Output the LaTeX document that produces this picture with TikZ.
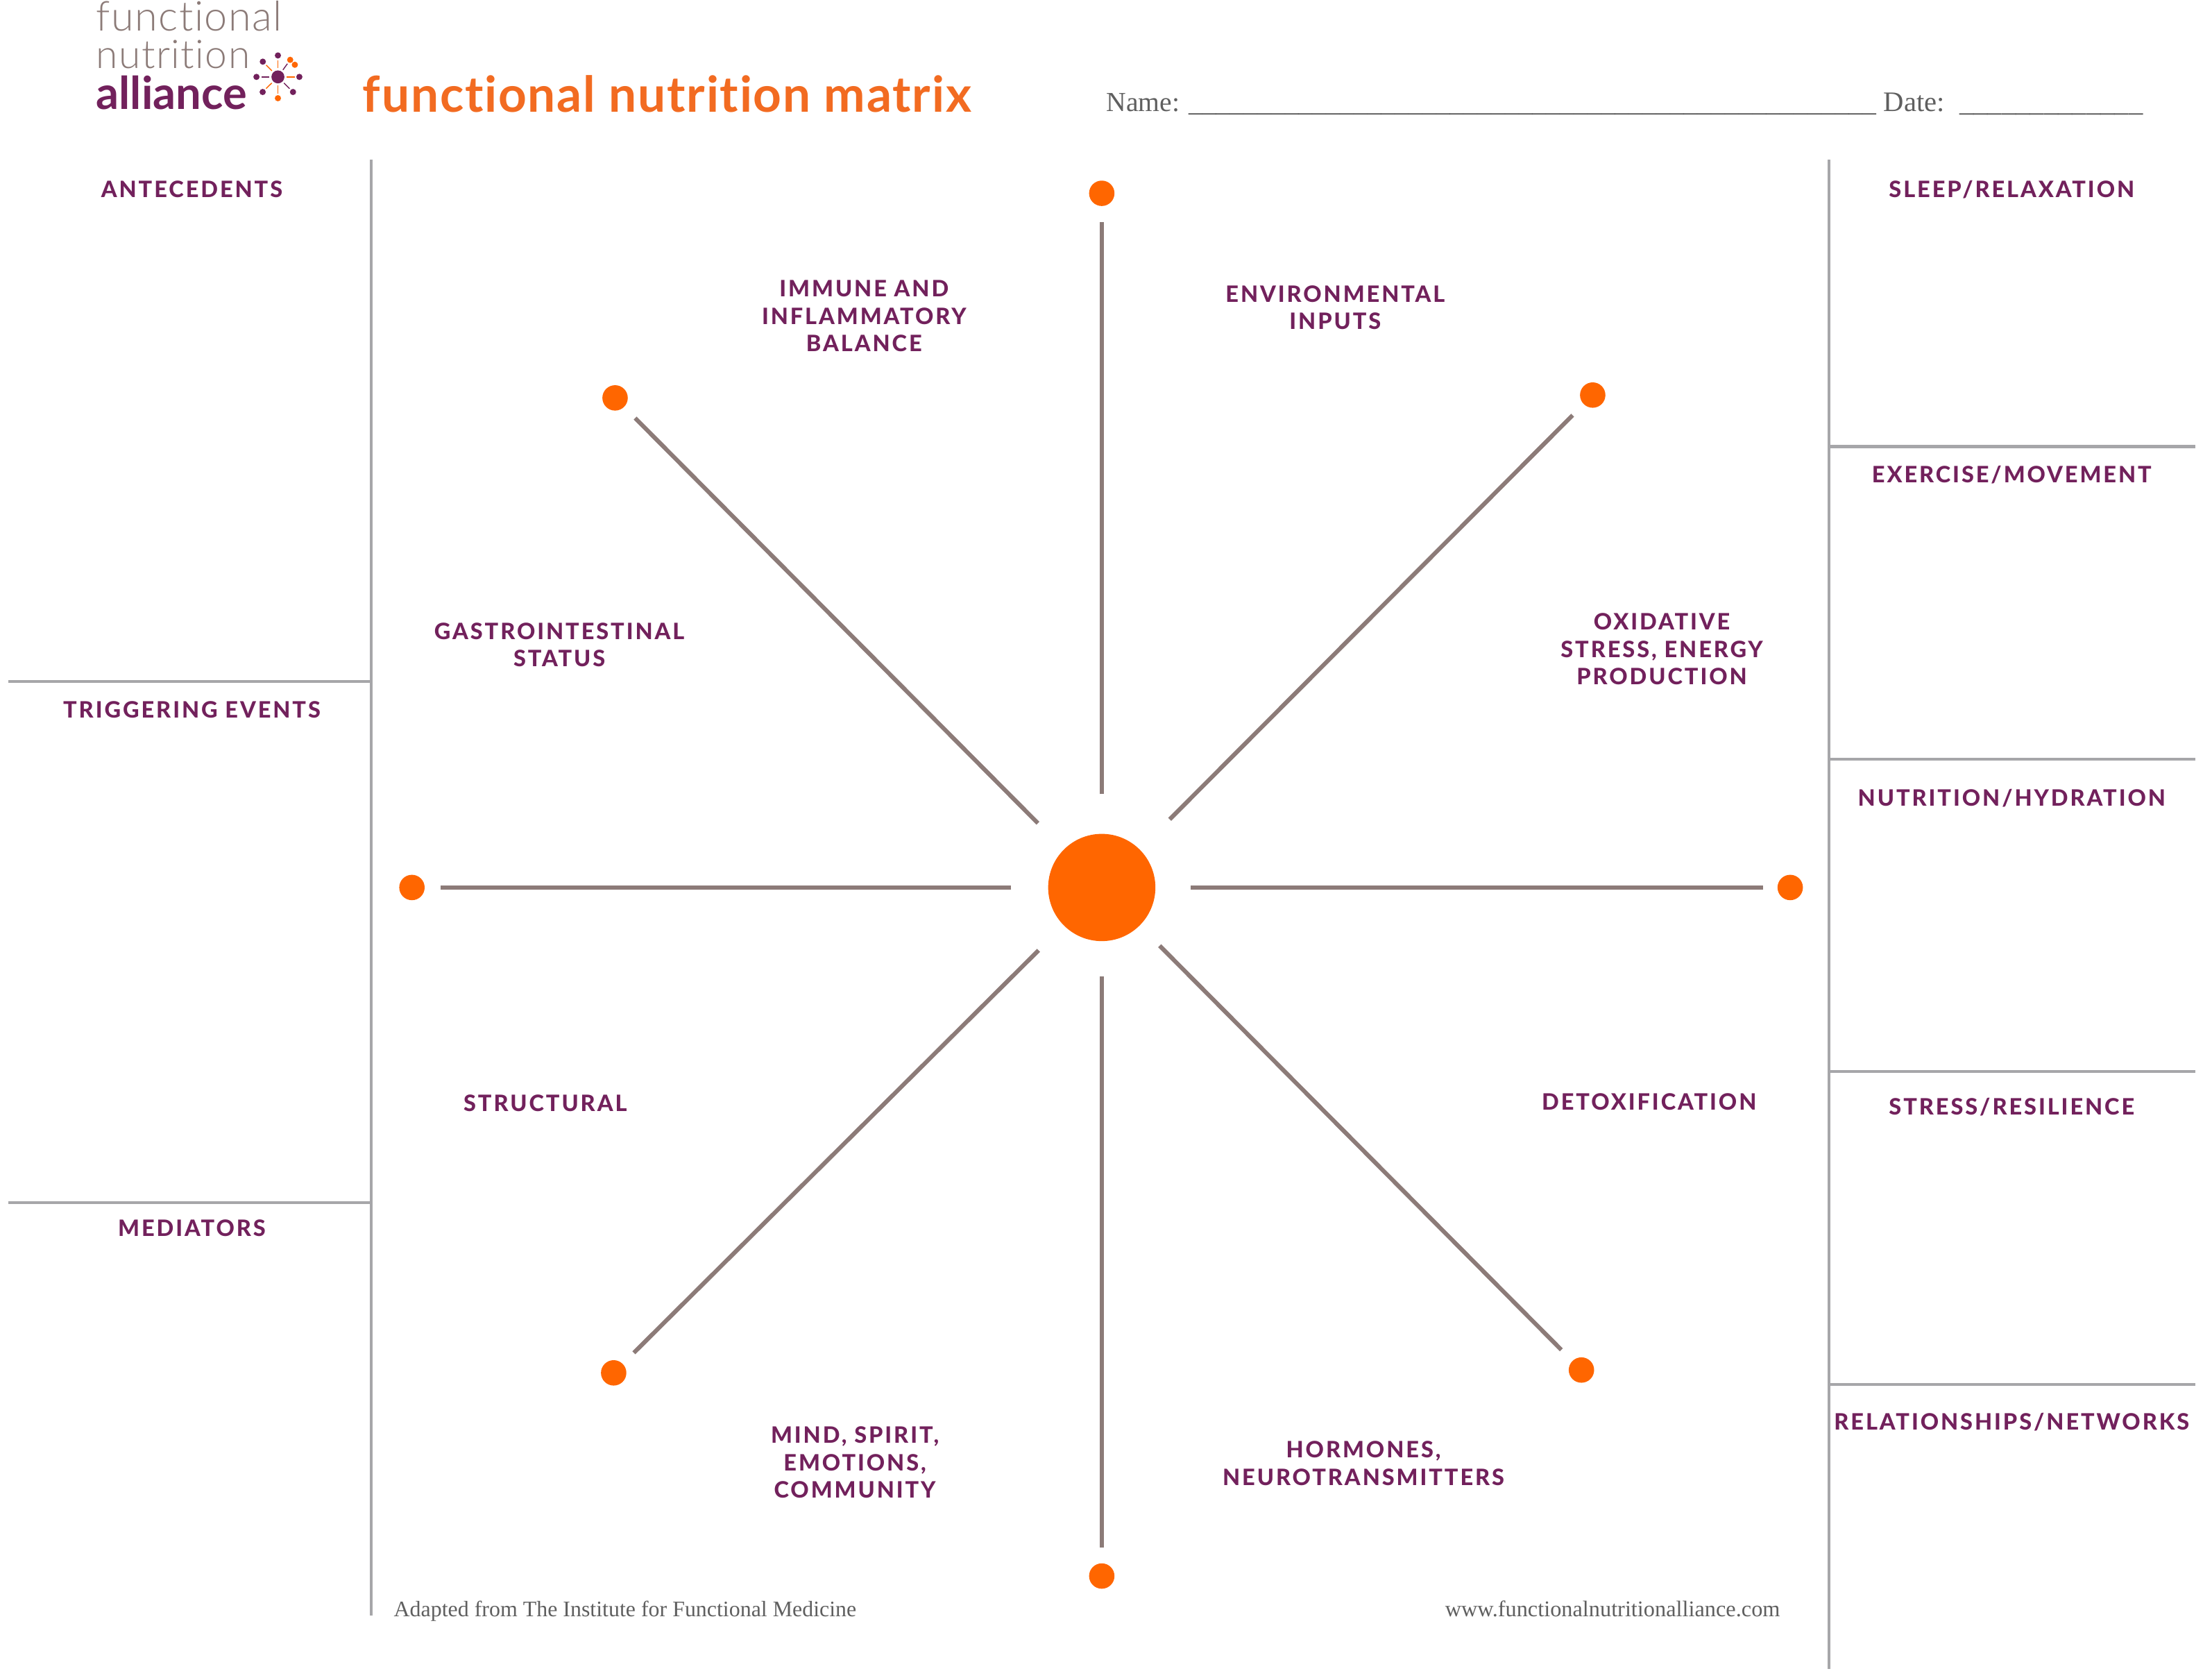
\documentclass[tikz,border=0pt]{standalone}
\usepackage{fontspec}
\setmainfont{Liberation Serif}
\newfontfamily\labelfont[LetterSpace=9.0,Ligatures=NoCommon]{Lato Heavy}
\newfontfamily\titlefont[LetterSpace=2.5,Ligatures=NoCommon]{Lato Bold}
\newfontfamily\logoboldfont[Ligatures=NoCommon]{Lato Bold}
\newfontfamily\logofont[LetterSpace=2.5,Ligatures=NoCommon]{Lato Light}
\definecolor{fnOrange}{HTML}{FF6600}
\definecolor{fnTitle}{HTML}{F26B21}
\definecolor{fnPurple}{HTML}{72215C}
\definecolor{fnTaupe}{HTML}{8C7B78}
\definecolor{fnGray}{HTML}{A6A6A9}
\definecolor{fnText}{HTML}{5F5F5F}
\tikzstyle{hubNode} = [circle, fill=fnOrange, minimum size=76pt, inner sep=0pt]
\tikzstyle{dotNode} = [circle, fill=fnOrange, minimum size=18pt, inner sep=0pt]
\tikzstyle{lblNode} = [align=center, text=fnPurple, inner sep=0pt, font=\labelfont\fontsize{16}{19.5}\selectfont]
\tikzstyle{serifNode} = [text=fnText, inner sep=0pt]
\tikzstyle{logoNode} = [anchor=base west, inner sep=0pt, text=fnTaupe]
\tikzstyle{spoke} = [draw=fnTaupe, line width=3pt]
\tikzstyle{frame} = [draw=fnGray, line width=2pt]
\tikzstyle{logoDot} = [circle, minimum size=4.4pt, inner sep=0pt]
\tikzstyle{logoSpoke} = [line width=0.7pt, shorten <=1.3pt, shorten >=1pt]

\begin{document}
\begin{tikzpicture}[x=1pt, y=-1pt]
        \useasboundingbox (0,0) rectangle (1568,1188.8);

        \node (hub) [hubNode] at (781,629) {};
        \node (dotN) [dotNode] at (781,137) {};
        \node (dotNE) [dotNode] at (1129,280) {};
        \node (dotE) [dotNode] at (1269,629) {};
        \node (dotSE) [dotNode] at (1121,971) {};
        \node (dotS) [dotNode] at (781,1117) {};
        \node (dotSW) [dotNode] at (435,973) {};
        \node (dotW) [dotNode] at (292,629) {};
        \node (dotNW) [dotNode] at (436,282) {};

        \draw [spoke, shorten <=28pt, shorten >=11pt] (hub) -- (dotN);
        \draw [spoke, shorten <=30pt, shorten >=11pt] (hub) -- (dotNE);
        \draw [spoke, shorten <=25pt, shorten >=10pt] (hub) -- (dotE);
        \draw [spoke, shorten <=20pt, shorten >=11pt] (hub) -- (dotSE);
        \draw [spoke, shorten <=25pt, shorten >=11pt] (hub) -- (dotS);
        \draw [spoke, shorten <=25pt, shorten >=11pt] (hub) -- (dotSW);
        \draw [spoke, shorten <=26pt, shorten >=11pt] (hub) -- (dotW);
        \draw [spoke, shorten <=26pt, shorten >=11pt] (hub) -- (dotNW);

        \draw [frame] (263,113) -- (263,1145);
        \draw [frame] (6,483) -- (263,483);
        \draw [frame] (6,852.5) -- (263,852.5);
        \draw [frame] (1296.5,113) -- (1296.5,1183);
        \foreach \y in {316.5,538,759.5,981}
            \draw [frame] (1296.5,\y) -- (1556,\y);

        \node (antecedents) [lblNode] at (136,134) {ANTECEDENTS};
        \node (triggering) [lblNode] at (136,503) {TRIGGERING EVENTS};
        \node (mediators) [lblNode] at (136,870.5) {MEDIATORS};
        \node (sleep) [lblNode] at (1426,134.5) {SLEEP/RELAXATION};
        \node (exercise) [lblNode] at (1426,336.5) {EXERCISE/MOVEMENT};
        \node (nutrition) [lblNode] at (1426,565.5) {NUTRITION/HYDRATION};
        \node (stress) [lblNode] at (1426,784.5) {STRESS/RESILIENCE};
        \node (relations) [lblNode] at (1426,1008) {RELATIONSHIPS/NETWORKS};
        \node (immune) [lblNode] at (612.5,224) {IMMUNE AND\\INFLAMMATORY\\BALANCE};
        \node (environ) [lblNode] at (946.5,218) {ENVIRONMENTAL\\INPUTS};
        \node (oxidative) [lblNode] at (1178,460) {OXIDATIVE\\STRESS, ENERGY\\PRODUCTION};
        \node (gastro) [lblNode] at (396.5,457) {GASTROINTESTINAL\\STATUS};
        \node (detox) [lblNode] at (1169,781) {DETOXIFICATION};
        \node (structural) [lblNode] at (386.5,782) {STRUCTURAL};
        \node (mind) [lblNode] at (606,1036.5) {MIND, SPIRIT,\\EMOTIONS,\\COMMUNITY};
        \node (hormones) [lblNode] at (966.5,1037) {HORMONES,\\NEUROTRANSMITTERS};

        \node (title) [anchor=base west, inner sep=0pt, text=fnTitle, font=\titlefont\fontsize{35}{35}\selectfont] at (257,79.5) {functional nutrition matrix};

        \node (name) [serifNode, anchor=base west, font=\fontsize{19.5}{19.5}\selectfont] at (784,79) {Name: \_\_\_\_\_\_\_\_\_\_\_\_\_\_\_\_\_\_\_\_\_\_\_\_\_\_\_\_\_\_\_\_\_\_\_\_\_\_\_\_\_\_\_\_\_\_\_\_\_\_};
        \node (date) [serifNode, anchor=base west, font=\fontsize{20}{20}\selectfont] at (1335,79) {Date:\hspace{10.5pt}\_\_\_\_\_\_\_\_\_\_\_\_\_};
        \node (adapted) [serifNode, anchor=base west, font=\fontsize{15.7}{15.7}\selectfont] at (279,1145.5) {Adapted from The Institute for Functional Medicine};
        \node (website) [serifNode, anchor=base east, font=\fontsize{15.9}{15.9}\selectfont] at (1262,1145.5) {www.functionalnutritionalliance.com};

        \node (logoA) [logoNode, font=\logofont\fontsize{29.2}{29.2}\selectfont] at (68,22) {functional};
        \node (logoB) [logoNode, font=\logofont\fontsize{28}{28}\selectfont] at (68,48.5) {nutrition};
        \node (logoC) [logoNode, text=fnPurple, font=\logoboldfont\fontsize{32}{32}\selectfont] at (68,77.5) {alliance};

        \node (lhub) [circle, fill=fnPurple, minimum size=9.2pt, inner sep=0pt] at (197,54.5) {};
        \foreach \n/\dx/\dy/\dotc/\linec in {a/0/-15.2/fnPurple/fnOrange, b/-10.7/-10.8/fnPurple/fnOrange, c/8.7/-12.1/fnOrange/fnPurple, d/15.2/0/fnPurple/fnOrange, e/10.7/10.7/fnPurple/fnPurple, f/0/15.1/fnOrange/fnOrange, g/-10.8/10.7/fnPurple/fnOrange, h/-15.2/0/fnPurple/fnPurple}
        {
            \node (ldot\n) [logoDot, fill=\dotc] at (197+\dx,54.5+\dy) {};
            \draw [logoSpoke, draw=\linec] (lhub) -- (ldot\n);
        }
        \node (ldoti) [logoDot, fill=fnOrange] at (209,45.9) {};
    \end{tikzpicture}
\end{document}
